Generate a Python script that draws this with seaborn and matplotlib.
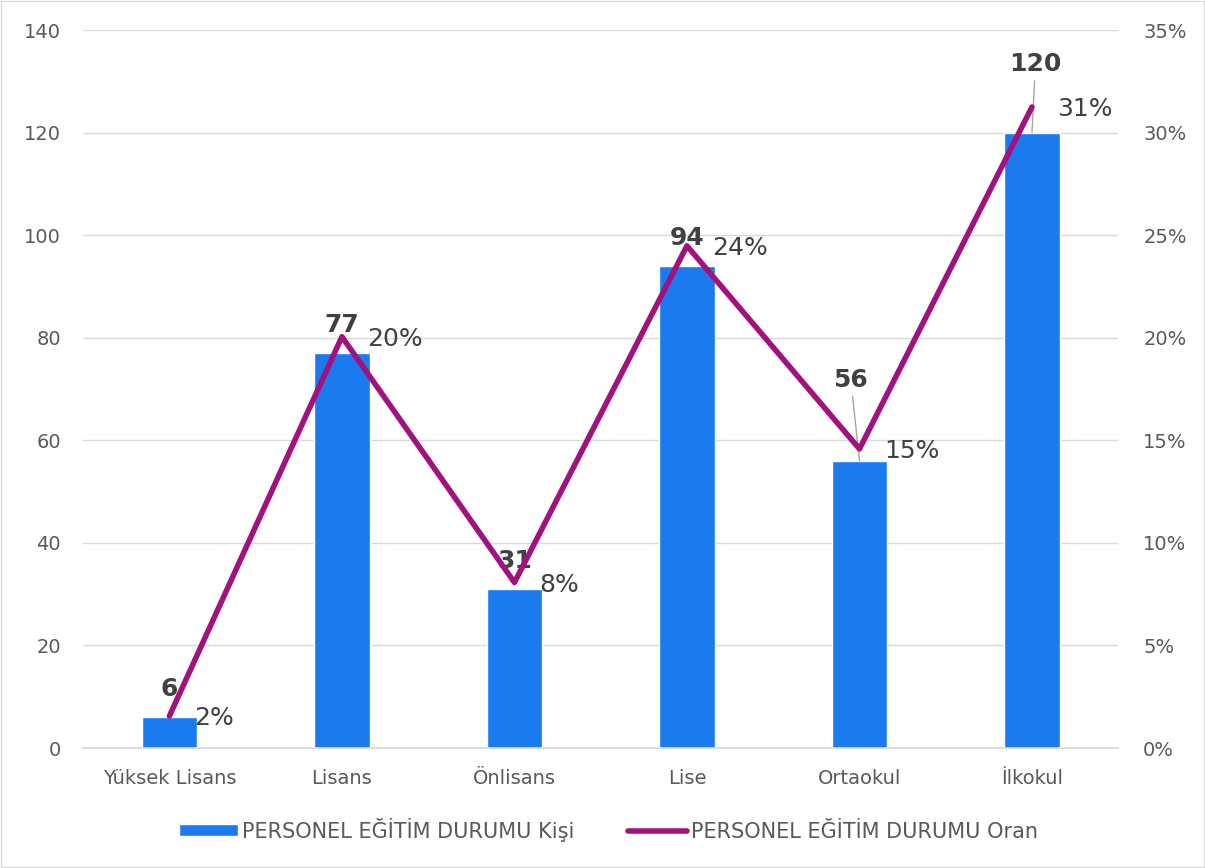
import matplotlib
matplotlib.use("Agg")
import matplotlib.pyplot as plt
import matplotlib.ticker as mtick
from matplotlib.patches import Patch
from matplotlib.lines import Line2D
import numpy as np
import pandas as pd
import seaborn as sns

# values
categories = ["Yüksek Lisans", "Lisans", "Önlisans", "Lise", "Ortaokul", "İlkokul"]
kisi = [6, 77, 31, 94, 56, 120]
oran = [0.0156, 0.2005, 0.0807, 0.2448, 0.1458, 0.3125]
oran_labels = ["2%", "20%", "8%", "24%", "15%", "31%"]

BAR = "#1A7AEE"
LINE = "#A2127F"
TXT = "#595959"
LBL = "#404040"

sns.set_theme(style="white")
plt.rcParams["font.family"] = ["DejaVu Sans"]

df = pd.DataFrame({"kategori": categories, "kisi": kisi, "oran": oran, "pos": np.arange(len(categories))})

fig = plt.figure(figsize=(12.05, 8.68), dpi=100)
ax = fig.add_axes([0.069, 0.1382, 0.859, 0.8272])

sns.barplot(data=df, x="kategori", y="kisi", color=BAR, width=0.32, saturation=1, ax=ax)
ax.set_ylim(0, 140)
ax.set_yticks(range(0, 141, 20))
ax.set_xlim(-0.5, len(categories) - 0.5)
ax.set_xlabel("")
ax.set_ylabel("")
ax.grid(axis="y", color="#D9D9D9", linewidth=1)
ax.set_axisbelow(True)
for s in ["top", "right", "left"]:
    ax.spines[s].set_visible(False)
ax.spines["bottom"].set_color("#D9D9D9")
ax.tick_params(axis="y", length=0, labelsize=14, colors=TXT, pad=16)
ax.tick_params(axis="x", length=0, labelsize=14, colors=TXT, pad=15)

ax2 = ax.twinx()
sns.lineplot(data=df, x="pos", y="oran", color=LINE, linewidth=4, ax=ax2)
ax2.set_ylim(0, 0.35)
ax2.set_yticks(np.arange(0, 0.351, 0.05))
ax2.yaxis.set_major_formatter(mtick.PercentFormatter(1.0, decimals=0))
ax2.set_ylabel("")
ax2.set_xlabel("")
ax2.set_xlim(-0.5, len(categories) - 0.5)
for s in ["top", "right", "left", "bottom"]:
    ax2.spines[s].set_visible(False)
ax2.tick_params(axis="y", length=0, labelsize=14, colors=TXT, pad=18)

# count labels (bold); two are lifted with leader lines
offsets = {4: (-0.05, 13.5), 5: (0.02, 11)}
for i, v in enumerate(kisi):
    if i in offsets:
        dx, dy = offsets[i]
        ax.annotate(str(v), xy=(i, v), xytext=(i + dx, v + dy), ha="center", va="bottom",
                    fontsize=18, fontweight="bold", color=LBL,
                    arrowprops=dict(arrowstyle="-", color="#A6A6A6", lw=1,
                                    shrinkA=1, shrinkB=0))
    else:
        ax.text(i, v + 3.2, str(v), ha="center", va="bottom",
                fontsize=18, fontweight="bold", color=LBL)

# percentage labels
for i, (p, lab) in enumerate(zip(oran, oran_labels)):
    ax2.annotate(lab, xy=(i, p), xytext=(18, -1.5), textcoords="offset points",
                 ha="left", va="center", fontsize=18, color=LBL)

handles = [Patch(facecolor=BAR, label="PERSONEL EĞİTİM DURUMU Kişi"),
           Line2D([0], [0], color=LINE, lw=4, label="PERSONEL EĞİTİM DURUMU Oran")]
leg = fig.legend(handles=handles, loc="center", bbox_to_anchor=(0.505, 0.044), ncol=2,
                 frameon=False, fontsize=15, handlelength=2.8, handleheight=0.5,
                 columnspacing=2.6, handletextpad=0.2)
for t in leg.get_texts():
    t.set_color(TXT)

fig.patches.append(plt.Rectangle((0.001, 0.001), 0.998, 0.998, transform=fig.transFigure,
                                 fill=False, edgecolor="#D9D9D9", lw=1))

fig.savefig("out.png", dpi=100)
